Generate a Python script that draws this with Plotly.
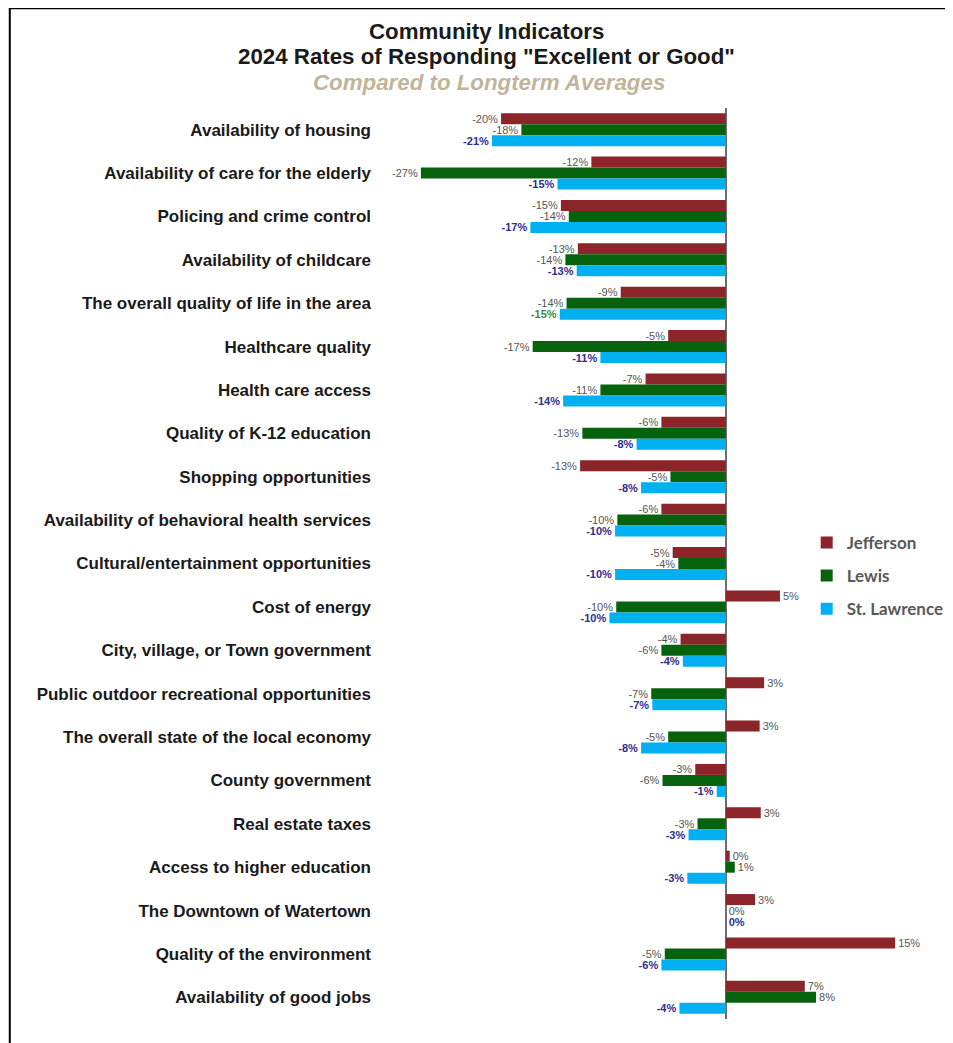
import plotly.graph_objects as go

categories = [
    "Availability of housing",
    "Availability of care for the elderly",
    "Policing and crime control",
    "Availability of childcare",
    "The overall quality of life in the area",
    "Healthcare quality",
    "Health care access",
    "Quality of K-12 education",
    "Shopping opportunities",
    "Availability of behavioral health services",
    "Cultural/entertainment opportunities",
    "Cost of energy",
    "City, village, or Town government",
    "Public outdoor recreational opportunities",
    "The overall state of the local economy",
    "County government",
    "Real estate taxes",
    "Access to higher education",
    "The Downtown of Watertown",
    "Quality of the environment",
    "Availability of good jobs",
]

jefferson = [-19.9, -11.9, -14.6, -13.1, -9.3, -5.1, -7.1, -5.7, -12.9, -5.7, -4.7,
             4.8, -4.0, 3.4, 3.0, -2.7, 3.1, 0.35, 2.6, 15.0, 7.0]
lewis = [-18.1, -27.0, -13.9, -14.2, -14.1, -17.1, -11.1, -12.7, -4.9, -9.6, -4.2,
         -9.7, -5.7, -6.6, -5.1, -5.6, -2.5, 0.8, 0.0, -5.4, 8.0]
st_lawrence = [-20.7, -14.9, -17.3, -13.2, -14.7, -11.1, -14.4, -7.9, -7.5, -9.8, -9.8,
               -10.3, -3.8, -6.5, -7.5, -0.8, -3.3, -3.4, 0.0, -5.7, -4.1]

jefferson_labels = ["-20%", "-12%", "-15%", "-13%", "-9%", "-5%", "-7%", "-6%", "-13%", "-6%", "-5%",
                    "5%", "-4%", "3%", "3%", "-3%", "3%", "0%", "3%", "15%", "7%"]
lewis_labels = ["-18%", "-27%", "-14%", "-14%", "-14%", "-17%", "-11%", "-13%", "-5%", "-10%", "-4%",
                "-10%", "-6%", "-7%", "-5%", "-6%", "-3%", "1%", "0%", "-5%", "8%"]
st_lawrence_labels = ["-21%", "-15%", "-17%", "-13%", "-15%", "-11%", "-14%", "-8%", "-8%", "-10%", "-10%",
                      "-10%", "-4%", "-7%", "-8%", "-1%", "-3%", "-3%", "0%", "-6%", "-4%"]

series_names = ["Jefferson", "Lewis", "St. Lawrence"]
colors = ["#8B2529", "#07620E", "#00B0F0"]

# page has an 8px body margin; figure coordinates = page coordinates - 8
OFF = 8
W, H = 945, 1035
L, R = 387 - OFF, 929.4 - OFF
T, B = 108.3 - OFF, 1018.7 - OFF
PW, PH = R - L, B - T


def px_x(px):
    return (px - OFF - L) / PW


def px_y(py):
    return (B - (py - OFF)) / PH


sl_label_colors = ["#2E2E8F"] * len(categories)
sl_label_colors[4] = "#3C8C3C"

fig = go.Figure()
data = [jefferson, lewis, st_lawrence]
labels = [jefferson_labels, lewis_labels, st_lawrence_labels]
for i, name in enumerate(series_names):
    if i < 2:
        tf = dict(family="Liberation Sans, Arial, sans-serif", size=11, color="#555555")
    else:
        tf = dict(family="Liberation Sans, Arial, sans-serif", size=11, color=sl_label_colors, weight="bold")
    fig.add_trace(go.Bar(
        y=categories, x=data[i], name=name, orientation="h",
        marker=dict(color=colors[i], line=dict(width=0)),
        text=labels[i], textposition="outside", textfont=tf,
        cliponaxis=False, constraintext="none", legendgroup=name,
        hoverinfo="skip",
    ))

fig.update_layout(
    width=W, height=H,
    margin=dict(l=L, r=W - R, t=T, b=H - B, pad=0, autoexpand=False),
    paper_bgcolor="white", plot_bgcolor="white",
    barmode="group", bargap=0.24, bargroupgap=0,
    showlegend=True,
    legend=dict(
        x=px_x(807), y=px_y(525), xanchor="left", yanchor="top",
        font=dict(family="Lato, Open Sans, sans-serif", size=17, color="#595959", weight="bold"),
        tracegroupgap=8, traceorder="grouped", bgcolor="rgba(0,0,0,0)",
        itemwidth=30,
    ),
    xaxis=dict(range=[-30, 18], showticklabels=False, showgrid=False, ticks="",
               zeroline=True, zerolinecolor="#6E6E6E", zerolinewidth=2, showline=False, fixedrange=True),
    yaxis=dict(type="category", autorange="reversed", showgrid=False, ticks="",
               ticklabelstandoff=15,
               tickfont=dict(family="Liberation Sans, Arial, sans-serif", size=17, color="#1A1A1A", weight="bold"),
               showline=False, fixedrange=True),
)

fig.add_shape(type="rect", xref="paper", yref="paper",
              x0=px_x(9.5), x1=px_x(990), y0=px_y(1080), y1=px_y(8.5),
              line=dict(color="black", width=2), fillcolor="rgba(0,0,0,0)", layer="below")

title_font = "Liberation Sans, Arial, sans-serif"
fig.add_annotation(text="Community Indicators", xref="paper", yref="paper",
                   x=px_x(487), y=px_y(32), xanchor="center", yanchor="middle", showarrow=False,
                   font=dict(family=title_font, size=22.3, color="#1A1A1A", weight="bold"))
fig.add_annotation(text='2024 Rates of Responding "Excellent or Good"', xref="paper", yref="paper",
                   x=px_x(487), y=px_y(57), xanchor="center", yanchor="middle", showarrow=False,
                   font=dict(family=title_font, size=22.3, color="#1A1A1A", weight="bold"))
fig.add_annotation(text="<i>Compared to Longterm Averages</i>", xref="paper", yref="paper",
                   x=px_x(489), y=px_y(83), xanchor="center", yanchor="middle", showarrow=False,
                   font=dict(family=title_font, size=22.3, color="#C2B39B", weight="bold"))

fig.write_html("out.html")
